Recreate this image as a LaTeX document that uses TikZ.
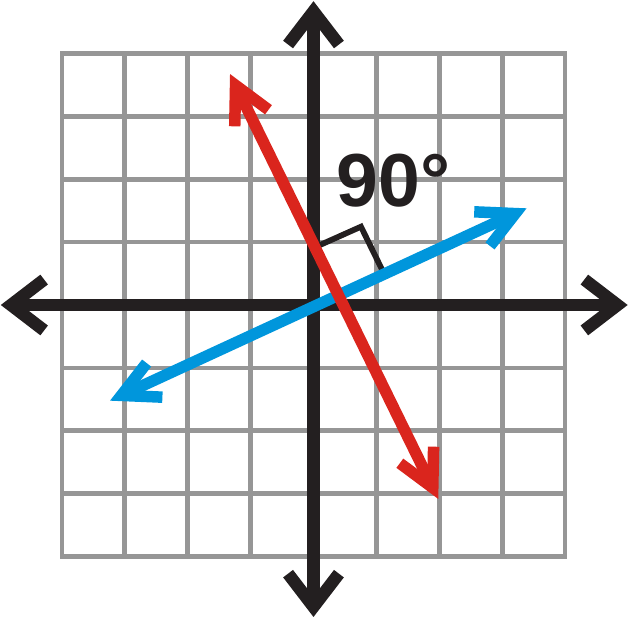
\documentclass[tikz,border=0pt]{standalone}
\usepackage{fontspec}
\setmainfont{Liberation Sans}
\usetikzlibrary{arrows.meta}

\definecolor{axisblack}{RGB}{35,31,32}
\definecolor{gridgray}{RGB}{150,150,150}
\definecolor{linered}{RGB}{218,37,29}
\definecolor{lineblue}{RGB}{0,150,220}

\begin{document}
\begin{tikzpicture}[
  gridline/.style={draw=gridgray, line width=2.1pt, line cap=rect},
  axis/.style={<->, >={Straight Barb[sharp, length=15pt, width=23pt]}, draw=axisblack, line width=5.6pt},
  graphline/.style={<->, >={Straight Barb[sharp, length=16.5pt, width=17pt]}, line width=5.2pt},
  rightmark/.style={draw=axisblack, line width=2.6pt, line join=miter},
  angletext/.style={font=\fontsize{34}{40}\selectfont\bfseries, text=axisblack, inner sep=0pt, anchor=base west},
]

\useasboundingbox (-4.984,-4.976) rectangle (5.016,4.849);

% === GRID ===
\draw[gridline] (-4,-4) grid (4,4);

% === RIGHT ANGLE MARK ===
\coordinate (m1) at (0.023,0.918);
\coordinate (mc) at (0.755,1.245);
\coordinate (m2) at (1.124,0.492);
\draw[rightmark] (m1) -- (mc) -- (m2);

% === AXES ===
\coordinate (xl) at (-4.971,0);
\coordinate (xr) at (4.995,0);
\coordinate (yb) at (0,-4.96);
\coordinate (yt) at (0,4.83);
\draw[axis] (xl) -- (xr);
\draw[axis] (yb) -- (yt);

% === PERPENDICULAR LINES ===
\coordinate (b1) at (-3.235,-1.521);
\coordinate (b2) at (3.388,1.537);
\coordinate (r1) at (-1.327,3.672);
\coordinate (r2) at (1.984,-3.084);
\draw[graphline, draw=lineblue] (b1) -- (b2);
\draw[graphline, draw=linered] (r1) -- (r2);

\node[angletext] (deg) at (0.36,1.558) {90°};
\end{tikzpicture}
\end{document}
